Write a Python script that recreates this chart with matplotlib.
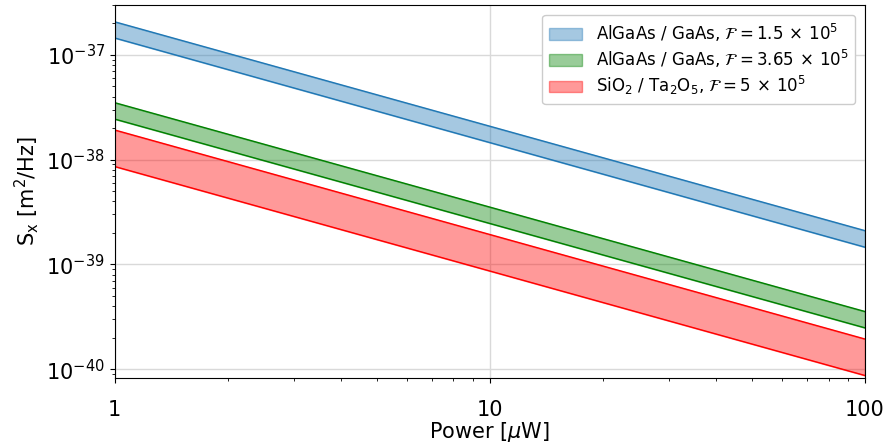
import matplotlib
matplotlib.use("Agg")
import matplotlib.pyplot as plt
from matplotlib.ticker import NullFormatter
import numpy as np

# Data: band edges at P = 1 and P = 100 uW
power = [1, 100]
algaas1_low = [1.45e-37, 1.46e-39]
algaas1_high = [2.07e-37, 2.1e-39]
algaas2_low = [2.44e-38, 2.48e-40]
algaas2_high = [3.5e-38, 3.55e-40]
sio2_low = [8.6e-39, 8.7e-41]
sio2_high = [1.92e-38, 1.94e-40]

labels = [
    r"AlGaAs / GaAs, $\mathcal{F} = 1.5\,\times\,10^5$",
    r"AlGaAs / GaAs, $\mathcal{F} = 3.65\,\times\,10^5$",
    r"SiO$_2$ / Ta$_2$O$_5$, $\mathcal{F} = 5\,\times\,10^5$",
]
colors = ["#1f77b4", "green", "red"]
yticks = [1e-40, 1e-39, 1e-38, 1e-37]
ytick_labels = [r"$10^{-40}$", r"$10^{-39}$", r"$10^{-38}$", r"$10^{-37}$"]

fig = plt.figure(figsize=(8.89, 4.46), dpi=100)
ax = fig.add_axes([0.129, 0.152, 0.844, 0.837])

bands = [(algaas1_low, algaas1_high), (algaas2_low, algaas2_high), (sio2_low, sio2_high)]
for (lo, hi), lab, c in zip(bands, labels, colors):
    ax.fill_between(power, lo, hi, color=c, alpha=0.4, label=lab, edgecolor=c, linewidth=1.0)
    ax.plot(power, lo, color=c, lw=1.0)
    ax.plot(power, hi, color=c, lw=1.0)

ax.set_xscale("log")
ax.set_yscale("log")
ax.set_xlim(1, 100)
ax.set_ylim(8.2e-41, 3.0e-37)
ax.grid(True, which="major", color="#d9d9d9", lw=1.0)
ax.set_axisbelow(True)
ax.set_xticks([1, 10, 100])
ax.set_xticklabels(["1", "10", "100"])
ax.set_yticks(yticks)
ax.set_yticklabels(ytick_labels)
ax.xaxis.set_minor_formatter(NullFormatter())
ax.yaxis.set_minor_formatter(NullFormatter())
ax.tick_params(labelsize=15)
ax.tick_params(axis="x", which="major", pad=12)
ax.set_xlabel(r"Power [$\mu$W]", fontsize=15, labelpad=0)
ax.set_ylabel(r"S$_\mathrm{x}$ [m$^2$/Hz]", fontsize=15)
ax.legend(loc="upper right", fontsize=12, framealpha=1.0, labelspacing=0.25,
          borderaxespad=0.6)

fig.savefig("out.png", dpi=100)
